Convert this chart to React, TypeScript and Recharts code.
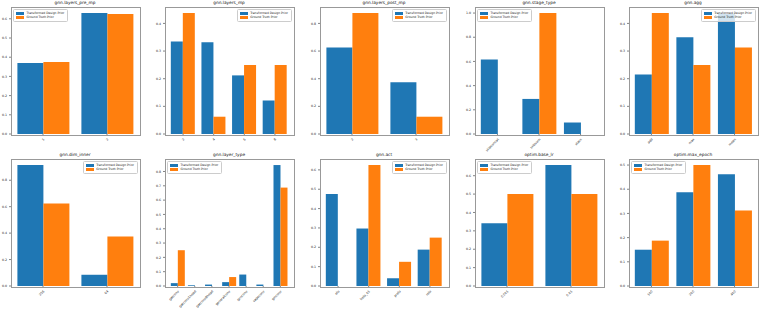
import React from "react"
import { BarChart, Bar, XAxis, YAxis } from "recharts"

const BLUE = "#1f77b4"
const ORANGE = "#ff7f0e"

// one set of small arrays per subplot
const preMpCats = ["1", "2"]
const preMpDesign = [0.37, 0.63]
const preMpTruth = [0.375, 0.625]
const preMpTicks = [0, 0.1, 0.2, 0.3, 0.4, 0.5, 0.6]

const mpCats = ["2", "4", "6", "8"]
const mpDesign = [0.335, 0.332, 0.212, 0.121]
const mpTruth = [0.4375, 0.0625, 0.25, 0.25]
const mpTicks = [0, 0.1, 0.2, 0.3, 0.4]

const postMpCats = ["2", "3"]
const postMpDesign = [0.625, 0.375]
const postMpTruth = [0.875, 0.125]
const postMpTicks = [0, 0.2, 0.4, 0.6, 0.8]

const stageCats = ["skipconcat", "skipsum", "stack"]
const stageDesign = [0.615, 0.29, 0.095]
const stageTruth = [0, 1.0, 0]
const stageTicks = [0, 0.2, 0.4, 0.6, 0.8, 1.0]

const aggCats = ["add", "max", "mean"]
const aggDesign = [0.215, 0.35, 0.435]
const aggTruth = [0.4375, 0.25, 0.3125]
const aggTicks = [0, 0.1, 0.2, 0.3, 0.4]

const dimCats = ["256", "64"]
const dimDesign = [0.915, 0.085]
const dimTruth = [0.625, 0.375]
const dimTicks = [0, 0.2, 0.4, 0.6, 0.8]

const layerCats = ["gatconv", "gatconv1head", "gatconv8head", "generalconv", "gcnconv", "sageconv", "ginconv"]
const layerDesign = [0.02, 0.005, 0.01, 0.027, 0.08, 0.01, 0.845]
const layerTruth = [0.25, 0, 0, 0.0625, 0, 0, 0.6875]
const layerTicks = [0, 0.1, 0.2, 0.3, 0.4, 0.5, 0.6, 0.7, 0.8]

const actCats = ["elu", "lrelu_01", "prelu", "relu"]
const actDesign = [0.475, 0.297, 0.04, 0.188]
const actTruth = [0, 0.625, 0.125, 0.25]
const actTicks = [0, 0.1, 0.2, 0.3, 0.4, 0.5, 0.6]

const lrCats = ["0.001", "0.01"]
const lrDesign = [0.342, 0.658]
const lrTruth = [0.5, 0.5]
const lrTicks = [0, 0.1, 0.2, 0.3, 0.4, 0.5, 0.6]

const epochCats = ["100", "200", "400"]
const epochDesign = [0.15, 0.388, 0.462]
const epochTruth = [0.1875, 0.5, 0.3125]
const epochTicks = [0, 0.1, 0.2, 0.3, 0.4, 0.5]

type Panel = {
  title: string
  cats: string[]
  design: number[]
  truth: number[]
  ticks: number[]
  legend: "left" | "right"
}

const panels: Panel[] = [
  { title: "gnn.layers_pre_mp", cats: preMpCats, design: preMpDesign, truth: preMpTruth, ticks: preMpTicks, legend: "left" },
  { title: "gnn.layers_mp", cats: mpCats, design: mpDesign, truth: mpTruth, ticks: mpTicks, legend: "right" },
  { title: "gnn.layers_post_mp", cats: postMpCats, design: postMpDesign, truth: postMpTruth, ticks: postMpTicks, legend: "right" },
  { title: "gnn.stage_type", cats: stageCats, design: stageDesign, truth: stageTruth, ticks: stageTicks, legend: "left" },
  { title: "gnn.agg", cats: aggCats, design: aggDesign, truth: aggTruth, ticks: aggTicks, legend: "right" },
  { title: "gnn.dim_inner", cats: dimCats, design: dimDesign, truth: dimTruth, ticks: dimTicks, legend: "right" },
  { title: "gnn.layer_type", cats: layerCats, design: layerDesign, truth: layerTruth, ticks: layerTicks, legend: "left" },
  { title: "gnn.act", cats: actCats, design: actDesign, truth: actTruth, ticks: actTicks, legend: "right" },
  { title: "optim.base_lr", cats: lrCats, design: lrDesign, truth: lrTruth, ticks: lrTicks, legend: "left" },
  { title: "optim.max_epoch", cats: epochCats, design: epochDesign, truth: epochTruth, ticks: epochTicks, legend: "left" },
]

const PLOT_LEFTS = [11, 165, 320, 475, 629]
const ROW_TOPS = [7, 159]
const PW = 128
const PH = 127
const YW = 22
const FONT = "DejaVu Sans, sans-serif"

function LegendBox({ side }: { side: "left" | "right" }) {
  const item = (color: string, label: string) => (
    <div style={{ display: "flex", alignItems: "center", height: 4.5 }}>
      <span style={{ width: 8, height: 3, background: color, marginRight: 2.5, display: "inline-block" }} />
      <span>{label}</span>
    </div>
  )
  return (
    <div
      style={{
        position: "absolute",
        top: 1.5,
        [side]: 1.5,
        fontSize: 3,
        fontFamily: FONT,
        color: "#222",
        background: "rgba(255,255,255,0.8)",
        border: "0.6px solid #ccc",
        borderRadius: 1.5,
        padding: "1px 3px 1px 2px",
        lineHeight: 1,
        whiteSpace: "nowrap",
      }}
    >
      {item(BLUE, "Transformed Design Prior")}
      {item(ORANGE, "Ground Truth Prior")}
    </div>
  )
}

function Subplot({ p, left, top }: { p: Panel; left: number; top: number }) {
  const data = p.cats.map((c, i) => ({ cat: c, design: p.design[i], truth: p.truth[i] }))
  const n = p.cats.length
  const unit = PW / (1.1 * (n - 0.2))
  const pad = Math.max(0, (PW - n * unit) / 2)
  const ymax = Math.max(...p.design, ...p.truth) * 1.05
  return (
    <>
      <div
        style={{
          position: "absolute",
          left,
          top: top - 6,
          width: PW,
          textAlign: "center",
          fontSize: 4.3,
          fontFamily: FONT,
          color: "#111",
          lineHeight: 1,
        }}
      >
        {p.title}
      </div>
      <div style={{ position: "absolute", left: left - YW, top }}>
        <BarChart
          width={PW + YW}
          height={PH + 30}
          data={data}
          margin={{ top: 0, right: 0, left: 0, bottom: 0 }}
          barCategoryGap="10%"
          barGap={0}
        >
          <XAxis
            dataKey="cat"
            height={30}
            padding={{ left: pad, right: pad }}
            axisLine={false}
            tickSize={2}
            tick={{ fontSize: 3.2, fill: "#222", fontFamily: FONT }}
            angle={-45}
            textAnchor="end"
            interval={0}
            tickLine={{ stroke: "#333", strokeWidth: 0.6 }}
          />
          <YAxis
            width={YW}
            domain={[0, ymax]}
            ticks={p.ticks}
            axisLine={false}
            tickSize={2}
            tickLine={{ stroke: "#333", strokeWidth: 0.6 }}
            tick={{ fontSize: 3.2, fill: "#222", fontFamily: FONT }}
            tickFormatter={(v: number) => v.toFixed(1)}
          />
          <Bar dataKey="design" fill={BLUE} isAnimationActive={false} />
          <Bar dataKey="truth" fill={ORANGE} isAnimationActive={false} />
        </BarChart>
      </div>
      <div
        style={{
          position: "absolute",
          left: left - 0.5,
          top: top - 0.5,
          width: PW,
          height: PH,
          border: "1px solid #999",
          pointerEvents: "none",
        }}
      >
        <LegendBox side={p.legend} />
      </div>
    </>
  )
}

export default function App() {
  return (
    <div style={{ position: "absolute", left: 0, top: 0, width: 761, height: 311, background: "#fff", overflow: "hidden" }}>
      {panels.map((p, i) => (
        <Subplot key={p.title} p={p} left={PLOT_LEFTS[i % 5]} top={ROW_TOPS[Math.floor(i / 5)]} />
      ))}
    </div>
  )
}
